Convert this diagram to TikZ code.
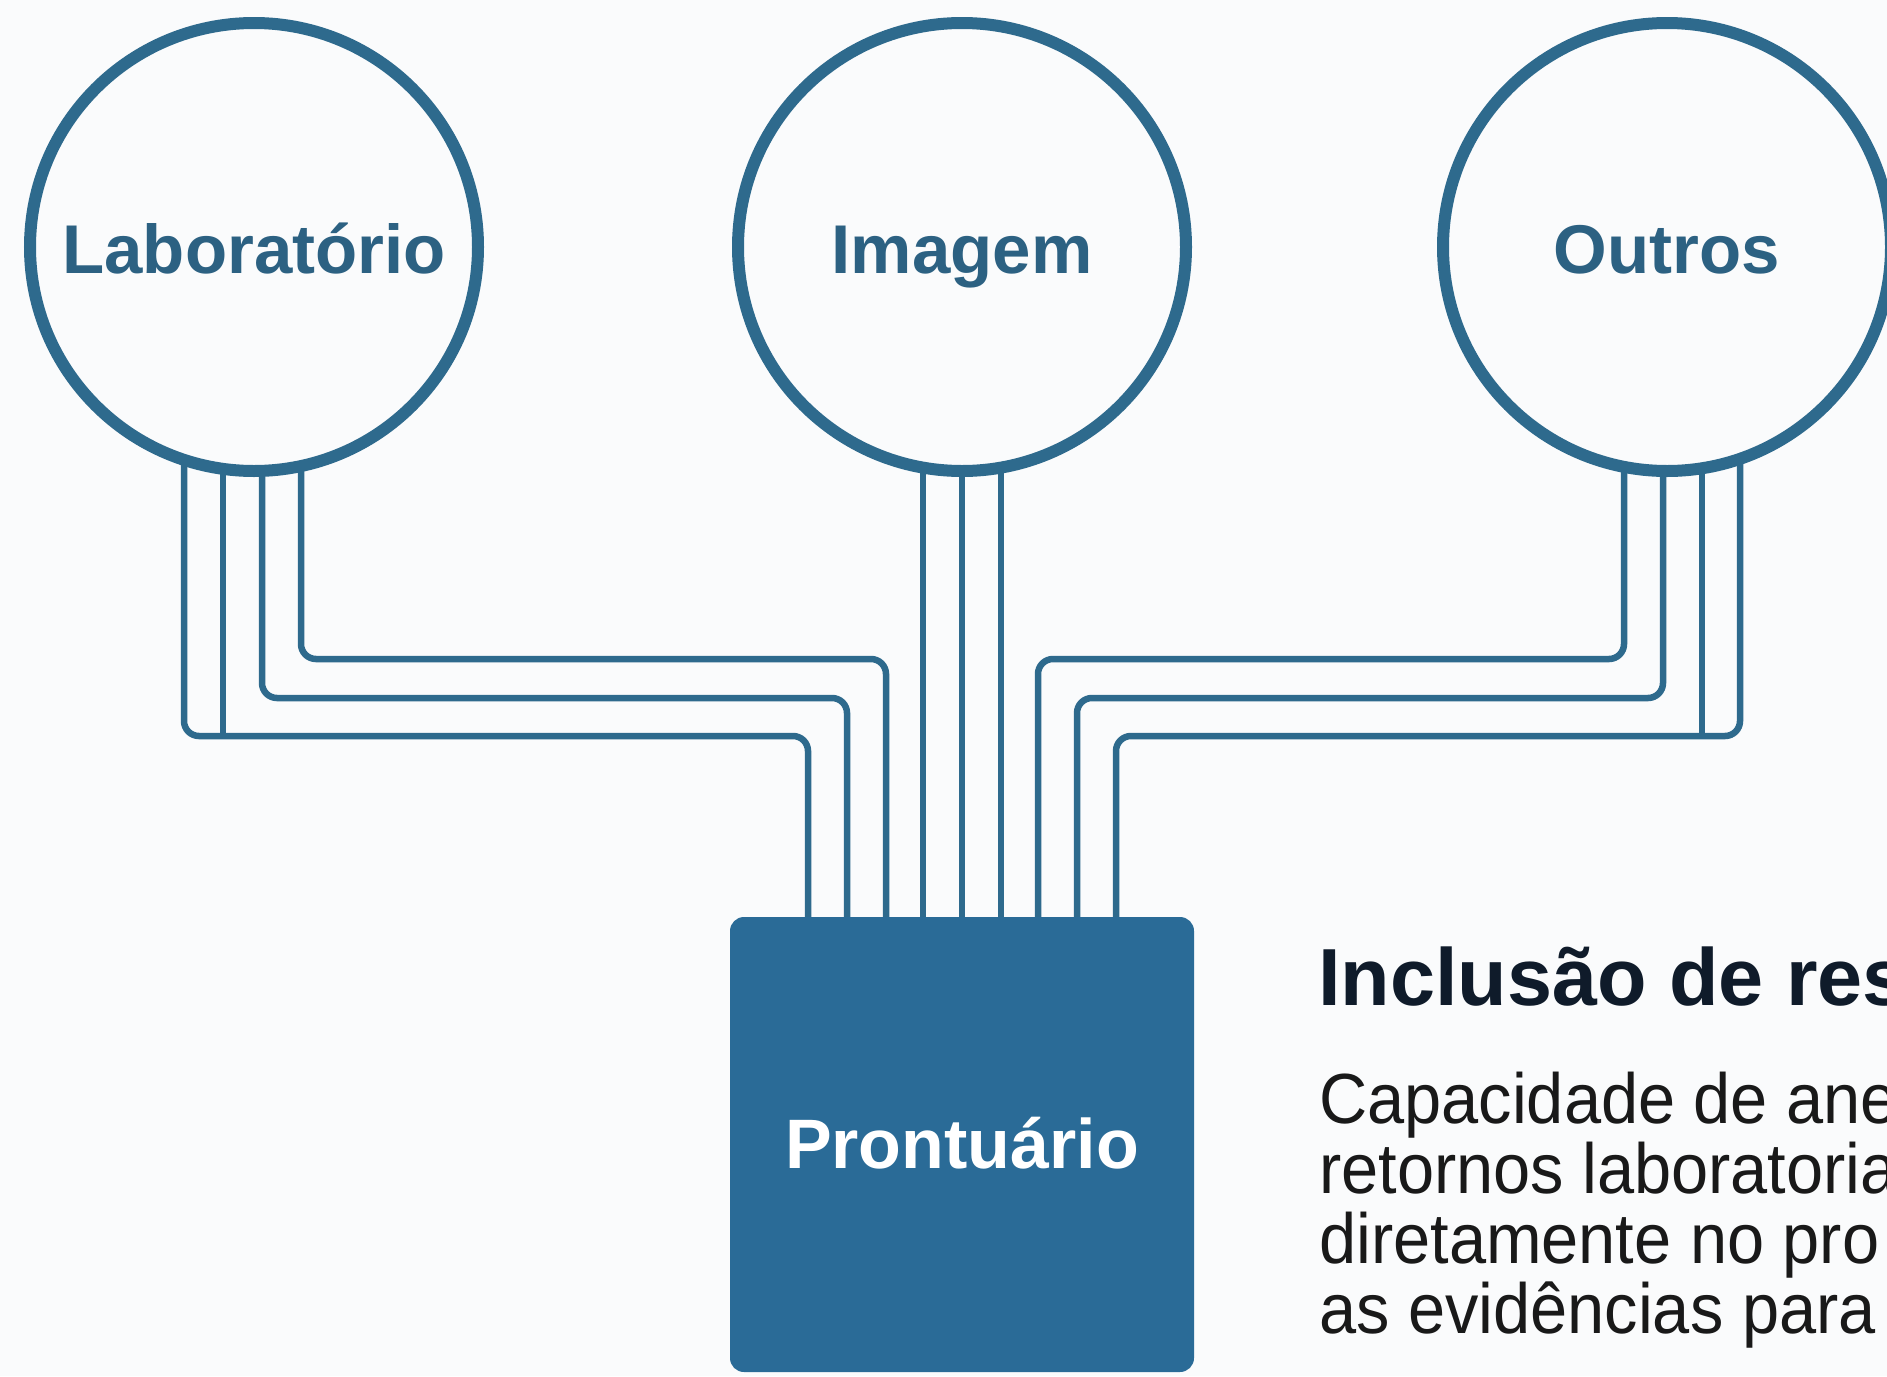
\documentclass[tikz,border=0pt]{standalone}
\usepackage{fontspec}
\setmainfont{Liberation Sans}
\newfontfamily\corpo[FakeStretch=0.94]{Liberation Sans}
\usetikzlibrary{backgrounds}

\definecolor{fundo}{RGB}{250,251,252}
\definecolor{azul}{RGB}{46,106,141}
\definecolor{azulescuro}{RGB}{44,97,130}
\definecolor{azulcaixa}{RGB}{42,107,151}
\definecolor{titulo}{RGB}{15,27,42}
\definecolor{texto}{RGB}{25,25,25}

\begin{document}
\begin{tikzpicture}[x=1pt, y=-1pt,
    main/.style = {draw=azul, line width=12pt, circle, fill=fundo, minimum size=448pt, inner sep=0pt,
        text=azulescuro, font=\bfseries\fontsize{69}{80}\selectfont, text height=53pt, text depth=0pt},
    block/.style = {fill=azulcaixa, rounded corners=14pt, minimum width=464pt, minimum height=455pt,
        text=white, font=\bfseries\fontsize{70}{80}\selectfont, text height=47pt, text depth=0pt},
    wire/.style = {draw=azul, line width=6.5pt, rounded corners=15pt},
    heading/.style = {inner sep=0pt, anchor=base west, text=titulo, font=\bfseries\fontsize{81}{90}\selectfont},
    bodytext/.style = {inner sep=0pt, anchor=base west, text=texto, font=\corpo\fontsize{71}{70}\selectfont}]
    \useasboundingbox (0,0) rectangle (1887,1376);

    \node[main] (lab) at (254,247) {Laboratório};
    \node[main] (img) at (962,247) {Imagem};
    \node[main] (out) at (1667,247) {Outros};
    \node[block] (pron) at (962,1144.5) {Prontuário};

    \node[heading] (head) at (1318,1005) {Inclusão de res};
    \node[bodytext] (txt1) at (1319,1123) {Capacidade de ane};
    \node[bodytext] (txt2) at (1319,1193) {retornos laboratoria};
    \node[bodytext] (txt3) at (1319,1263) {diretamente no pro};
    \node[bodytext] (txt4) at (1319,1333) {as evidências para};

    \coordinate (h1) at (0,659);
    \coordinate (h2) at (0,698);
    \coordinate (h3) at (0,736);

    \begin{pgfonlayer}{background}
        \fill[fundo] (0,0) rectangle (1887,1376);
        % laboratorio
        \draw[wire] ([xshift=47pt]lab.center) -- ([xshift=47pt]lab.center |- h1) -| ([xshift=-76pt]pron.north);
        \draw[wire] ([xshift=8pt]lab.center) -- ([xshift=8pt]lab.center |- h2) -| ([xshift=-115pt]pron.north);
        \draw[wire] ([xshift=-70pt]lab.center) -- ([xshift=-70pt]lab.center |- h3) -| ([xshift=-154pt]pron.north);
        \draw[wire] ([xshift=-31pt]lab.center) -- ([xshift=-31pt]lab.center |- h3);
        % imagem
        \draw[wire] ([xshift=-39pt]img.center) -- ([xshift=-39pt]pron.north);
        \draw[wire] (img.center) -- (pron.north);
        \draw[wire] ([xshift=39pt]img.center) -- ([xshift=39pt]pron.north);
        % outros
        \draw[wire] ([xshift=-43pt]out.center) -- ([xshift=-43pt]out.center |- h1) -| ([xshift=76pt]pron.north);
        \draw[wire] ([xshift=-4pt]out.center) -- ([xshift=-4pt]out.center |- h2) -| ([xshift=115pt]pron.north);
        \draw[wire] ([xshift=73pt]out.center) -- ([xshift=73pt]out.center |- h3) -| ([xshift=154pt]pron.north);
        \draw[wire] ([xshift=35pt]out.center) -- ([xshift=35pt]out.center |- h3);
    \end{pgfonlayer}
\end{tikzpicture}
\end{document}
